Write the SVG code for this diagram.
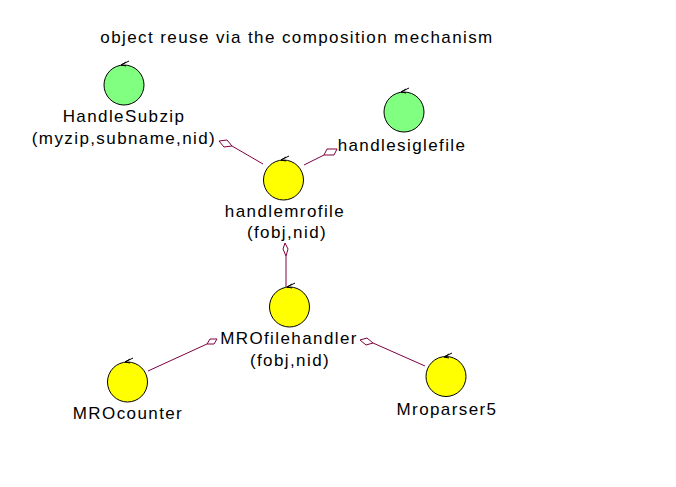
<svg xmlns="http://www.w3.org/2000/svg" width="676" height="487" viewBox="0 0 676 487">
<style>
text{font-family:"Liberation Sans",Arial,sans-serif;font-size:17px;letter-spacing:1.4px;fill:#000;text-anchor:middle}
.g{fill:#80ff80;stroke:#000;stroke-width:1}
.y{fill:#ffff00;stroke:#000;stroke-width:1}
.mk{fill:none;stroke:#000;stroke-width:1}
.c line{stroke:#800040;stroke-width:1}
.c polygon{fill:#fff;stroke:#800040;stroke-width:1}
</style>
<defs>
<path id="ic" class="mk" d="M5,-4 L-3,0 M-3,0 L2,-3 M-3,0 L2,1"/>
</defs>
<rect width="676" height="487" fill="#fff"/>
<text x="297" y="43">object reuse via the composition mechanism</text>
<g class="c" id="connectors">
<line x1="232" y1="146" x2="263" y2="164"/>
<polygon points="219,141 227,140 232,146 224,147"/>
<line x1="324" y1="155" x2="304" y2="165"/>
<polygon points="337,149 334,155 324,155 327,149"/>
<line x1="286" y1="256" x2="286" y2="287"/>
<polygon points="285,243 288,249 286,256 283,249"/>
<line x1="207" y1="344" x2="148" y2="371"/>
<polygon points="217,339 214,344 207,344 210,339"/>
<line x1="373" y1="343" x2="425" y2="366"/>
<polygon points="360,340 367,338 373,343 366,345"/>
</g>
<g id="HandleSubzip">
<circle class="g" cx="124" cy="85" r="20"/>
<use href="#ic" x="124" y="65"/>
<text x="124" y="122">HandleSubzip</text>
<text x="124" y="144">(myzip,subname,nid)</text>
</g>
<g id="handlesiglefile">
<circle class="g" cx="404" cy="112" r="20"/>
<use href="#ic" x="404" y="92"/>
<text x="402" y="151">handlesiglefile</text>
</g>
<g id="handlemrofile">
<circle class="y" cx="283.5" cy="180" r="20"/>
<use href="#ic" x="284" y="160"/>
<text x="285" y="217">handlemrofile</text>
<text x="287" y="238">(fobj,nid)</text>
</g>
<g id="MROfilehandler">
<circle class="y" cx="289.5" cy="307" r="20"/>
<use href="#ic" x="290" y="287"/>
<text x="289" y="344">MROfilehandler</text>
<text x="290" y="366">(fobj,nid)</text>
</g>
<g id="MROcounter">
<circle class="y" cx="127.5" cy="382" r="20"/>
<use href="#ic" x="128" y="362"/>
<text x="128" y="419">MROcounter</text>
</g>
<g id="Mroparser5">
<circle class="y" cx="446" cy="376.5" r="20"/>
<use href="#ic" x="447" y="357"/>
<text x="447" y="415">Mroparser5</text>
</g>
</svg>
